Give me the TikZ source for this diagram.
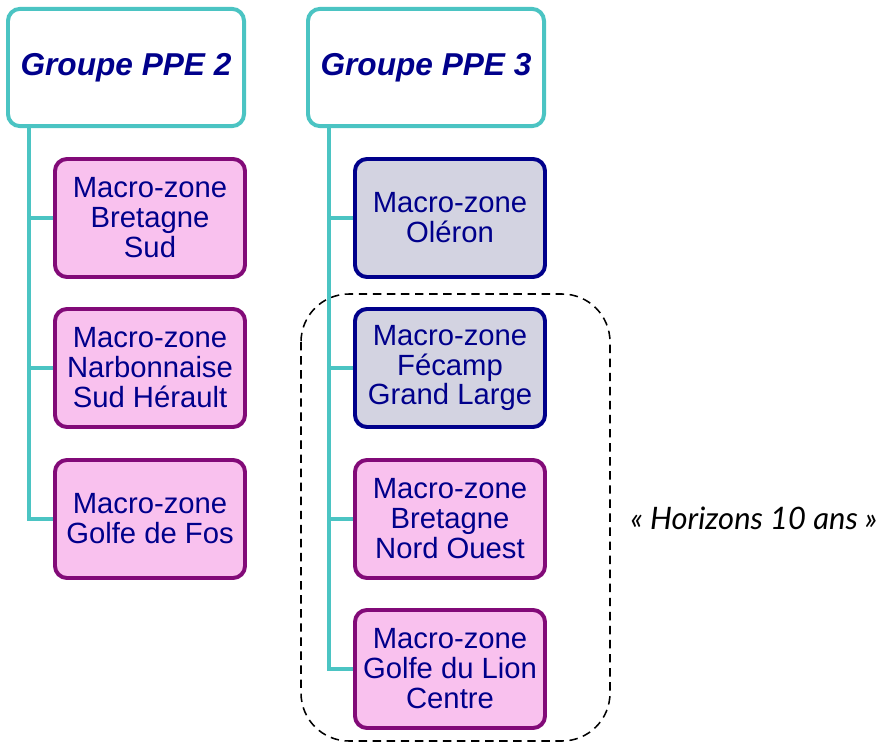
\documentclass[tikz,border=0pt]{standalone}
\usepackage{fontspec}
\setmainfont{Liberation Sans}
\newfontfamily\horizfont{Lato}
\definecolor{tealline}{HTML}{4BC4C3}
\definecolor{zonepink}{HTML}{F9C1EE}
\definecolor{zoneplum}{HTML}{820A78}
\definecolor{zonegray}{HTML}{D3D3E1}
\definecolor{zonenavy}{HTML}{00008B}
\tikzset{
  groupbox/.style={draw=tealline,fill=white,line width=2.8pt,rounded corners=0.3cm,
    minimum width=5.9cm,minimum height=2.93cm,text=zonenavy,
    font=\fontsize{22.5}{26}\selectfont\bfseries\itshape},
  zonebox/.style={draw=zoneplum,fill=zonepink,line width=2.8pt,rounded corners=0.3cm,
    minimum width=4.75cm,minimum height=2.95cm,text=zonenavy,align=center,inner sep=0pt,
    font=\fontsize{20.8}{21.3}\selectfont},
  zonegrey/.style={zonebox,draw=zonenavy,fill=zonegray},
  trunk/.style={draw=tealline,line width=2.8pt}
}
\begin{document}
\begin{tikzpicture}[x=0.025cm,y=-0.025cm]
\useasboundingbox (0,0) rectangle (882,743);

\node[groupbox] (ppe2) at (126,67.5) {Groupe PPE 2};
\node[groupbox] (ppe3) at (426,67.5) {Groupe PPE 3};

\node[zonebox] (bsud) at (150,218) {Macro-zone\\Bretagne\\Sud};
\node[zonebox] (narbo) at (150,368) {Macro-zone\\Narbonnaise\\Sud Hérault};
\node[zonebox] (fos) at (150,519) {Macro-zone\\Golfe de Fos};

\node[zonegrey] (oleron) at (450,218) {Macro-zone\\Oléron};
\node[zonegrey] (fecamp) at (450,368) {Macro-zone\\Fécamp\\Grand Large};
\node[zonebox] (bno) at (450,519) {Macro-zone\\Bretagne\\Nord Ouest};
\node[zonebox] (lion) at (450,669) {Macro-zone\\Golfe du Lion\\Centre};

\foreach \z in {bsud,narbo,fos}
\draw[trunk] ([xshift=0.575cm]ppe2.south west) |- (\z.west);
\foreach \z in {oleron,fecamp,bno,lion}
\draw[trunk] ([xshift=0.575cm]ppe3.south west) |- (\z.west);

\draw[line width=1.1pt,dash pattern=on 6pt off 4pt,rounded corners=1.2cm] (301,294) rectangle (610,741);

\node[font=\horizfont\fontsize{22}{26}\selectfont\itshape] (horiz) at (754,518) {« Horizons 10 ans »};
\end{tikzpicture}
\end{document}
